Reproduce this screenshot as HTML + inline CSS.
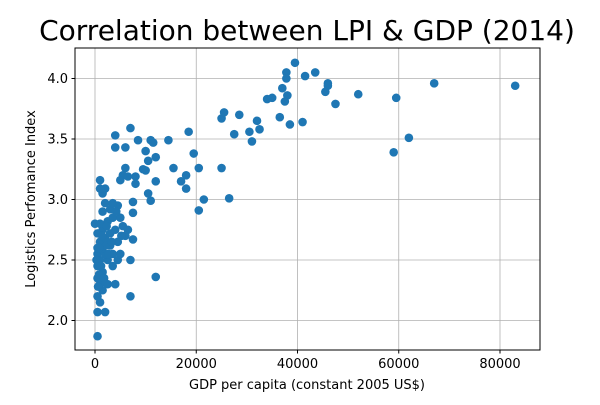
<!DOCTYPE html>
<html><head><meta charset="utf-8"><style>
body{margin:0;background:#fff;}
svg{font-family:"DejaVu Sans","Liberation Sans",sans-serif;}
</style></head><body>
<svg id="chart" width="600" height="400">
<text x="307" y="40" font-size="28" text-anchor="middle" fill="#000">Correlation between LPI &amp; GDP (2014)</text>
<g id="grid"></g>
<g id="points"></g>
<rect x="75" y="48" width="465" height="302" fill="none" stroke="#000" stroke-width="1"/>
<g id="ticks"></g>
<text x="307" y="389" font-size="13" text-anchor="middle">GDP per capita (constant 2005 US$)</text>
<text transform="translate(35,199) rotate(-90)" font-size="13" text-anchor="middle">Logistics Perfomance Index</text>
</svg>
<script>
const xTicks=[0,20000,40000,60000,80000];
const xTickLabels=["0","20000","40000","60000","80000"];
const yTicks=[2.0,2.5,3.0,3.5,4.0];
const yTickLabels=["2.0","2.5","3.0","3.5","4.0"];
const gdp=[83000,67000,62000,59500,59000,52000,47500,46000,46000,45500,43500,41500,41000,39500,38500,38000,37800,37800,37500,37000,36500,35000,34000,32500,32000,31000,30500,28500,27500,26500,25000,25000,25500,21500,20500,20500,19500,18500,18000,18000,17000,15500,14500,12000,12000,12000,11500,11000,11000,10500,10500,10000,10000,9500,8500,8000,8000,7500,7500,7500,7000,7000,7000,6500,6000,6000,5500,5000,4000,4000,
500,500,2000,1000,500,1500,4000,1000,2500,500,1500,500,3500,1000,2500,4500,500,2000,3500,5000,500,1500,3000,4500,6000,1000,2000,500,3000,1500,4000,5500,0,1000,2500,3500,5000,1500,3000,4500,2000,3500,1500,2000,1000,1000,300,800,1200,2200,2700,1800,600,4200,5200,6500,2300,3300,800,1400];
const lpi=[3.94,3.96,3.51,3.84,3.39,3.87,3.79,3.96,3.94,3.89,4.05,4.02,3.64,4.13,3.62,3.86,4.05,4.00,3.81,3.92,3.68,3.84,3.83,3.58,3.65,3.48,3.56,3.70,3.54,3.01,3.26,3.67,3.72,3.00,3.26,2.91,3.38,3.56,3.09,3.20,3.15,3.26,3.49,2.36,3.35,3.15,3.47,3.49,2.99,3.05,3.32,3.24,3.40,3.25,3.49,3.13,3.19,2.89,2.98,2.67,3.59,2.20,2.50,3.19,3.26,3.43,3.20,3.16,3.53,3.43,
1.87,2.07,2.07,2.15,2.20,2.25,2.30,2.30,2.30,2.35,2.40,2.45,2.45,2.50,2.50,2.50,2.55,2.55,2.55,2.55,2.60,2.60,2.62,2.65,2.70,2.65,2.68,2.72,2.72,2.75,2.75,2.78,2.80,2.80,2.82,2.85,2.85,2.90,2.92,2.95,2.97,2.97,3.05,3.09,3.09,3.16,2.50,2.38,2.45,2.62,2.55,2.35,2.28,2.90,2.70,2.75,2.78,2.65,2.60,2.70];
const NS="http://www.w3.org/2000/svg";
const L=75,R=540,T=48,B=350;
function xs(v){return 95+v*(405/80000);}
function ys(v){return 78.5+(4-v)*121;}
const grid=document.getElementById('grid'),ticks=document.getElementById('ticks'),pts=document.getElementById('points');
function mk(tag,attrs,parent){const e=document.createElementNS(NS,tag);for(const k in attrs)e.setAttribute(k,attrs[k]);parent.appendChild(e);return e;}
xTicks.forEach((v,i)=>{const x=xs(v);
const g=mk('line',{x1:x,x2:x,y1:T,y2:B,stroke:'#b0b0b0','stroke-width':0.8},grid);


const t=mk('line',{x1:x,x2:x,y1:B,y2:B+3.5,stroke:'#000'},ticks);


const l=mk('text',{x:x,y:B+18,'font-size':13,'text-anchor':'middle'},ticks);l.textContent=xTickLabels[i];


});
yTicks.forEach((v,i)=>{const y=ys(v);
const g=mk('line',{x1:L,x2:R,y1:y,y2:y,stroke:'#b0b0b0','stroke-width':0.8},grid);


const t=mk('line',{x1:L-3.5,x2:L,y1:y,y2:y,stroke:'#000'},ticks);


const l=mk('text',{x:L-7,y:y+4.5,'font-size':13,'text-anchor':'end'},ticks);l.textContent=yTickLabels[i];


});
gdp.forEach((v,i)=>{
const c=mk('circle',{cx:xs(v),cy:ys(lpi[i]),r:4.3,fill:'#1f77b4'},pts);


});
</script>
</body></html>
